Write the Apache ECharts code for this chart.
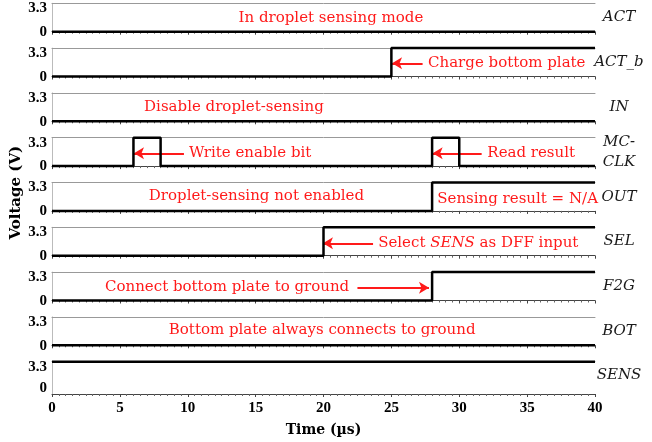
<!DOCTYPE html>
<html><head><meta charset="utf-8">
<script src="https://cdn.jsdelivr.net/npm/echarts@6/dist/echarts.min.js"></script>
<style>html,body{margin:0;padding:0;background:#fff}#c{width:652px;height:442px}</style>
</head><body><div id="c"></div>
<script>
// ---- data ----
const signalNames = ['ACT', 'ACT_b', 'IN', 'MC-\nCLK', 'OUT', 'SEL', 'F2G', 'BOT', 'SENS'];
// step waveforms: [time (µs), voltage (V)]
const actWave   = [[0, 0], [40, 0]];
const actBWave  = [[0, 0], [25, 3.3], [40, 3.3]];
const inWave    = [[0, 0], [40, 0]];
const mcClkWave = [[0, 0], [6, 3.3], [8, 0], [28, 3.3], [30, 0], [40, 0]];
const outWave   = [[0, 0], [28, 3.3], [40, 3.3]];
const selWave   = [[0, 0], [20, 3.3], [40, 3.3]];
const f2gWave   = [[0, 0], [28, 3.3], [40, 3.3]];
const botWave   = [[0, 0], [40, 0]];
const sensWave  = [[0, 3.3], [40, 3.3]];
const waves = [actWave, actBWave, inWave, mcClkWave, outWave, selWave, f2gWave, botWave, sensWave];
const yTickValues = [0, 3.3];
// annotations: [panel, time, voltage, text]
const notes = [
  [0, 20.55, 1.6, 'In droplet sensing mode'],
  [1, 33.5, 1.6, 'Charge bottom plate'],
  [2, 13.4, 1.6, 'Disable droplet-sensing'],
  [3, 14.6, 1.5, 'Write enable bit'],
  [3, 35.3, 1.5, 'Read result'],
  [4, 15.06, 1.7, 'Droplet-sensing not enabled'],
  [4, 34.3, 1.35, 'Sensing result = N/A'],
  [5, 31.4, 1.5, 'Select {i|SENS} as DFF input'],
  [6, 12.9, 1.6, 'Connect bottom plate to ground'],
  [7, 19.9, 1.75, 'Bottom plate always connects to ground']
];
// arrows: [panel, tail time, head time, voltage]
const arrows = [
  [1, 27.3, 25.05, 1.53],
  [3, 9.72, 6.04, 1.49],
  [3, 31.65, 28.04, 1.49],
  [5, 23.65, 19.96, 1.44],
  [6, 22.5, 27.77, 1.49]
];

// ---- layout / style ----
const N = 9, LEFT = 52, WIDTH = 543, TOP0 = 3.3, PITCH = 44.8, H = 28.4, HLAST = 32.3;
const SERIF = '"DejaVu Serif", "Liberation Serif", serif';
const TICKFONT = '"Liberation Serif", "DejaVu Serif", serif';
const RED = '#ff1a1a';
const tickText = { color: '#000', fontFamily: TICKFONT, fontWeight: 'bold', fontSize: 15 };

const grid = [], xAxis = [], yAxis = [], series = [];
for (let i = 0; i < N; i++) {
  const last = i === N - 1;
  grid.push({ left: LEFT, width: WIDTH, top: TOP0 + i * PITCH, height: last ? HLAST : H,
    containLabel: false, outerBoundsMode: 'none' });
  xAxis.push({
    gridIndex: i, type: 'value', min: 0, max: 40, interval: 5, position: 'bottom',
    axisLine: { show: true, onZero: false, lineStyle: { color: '#444', width: 1 } },
    axisTick: { show: true, length: 3, lineStyle: { color: '#444' } },
    minorTick: { show: true, splitNumber: 10, length: 2, lineStyle: { color: '#666' } },
    splitLine: { show: false },
    axisLabel: { show: last, ...tickText, margin: 7 },
    name: last ? 'Time (µs)' : '', nameLocation: 'middle', nameGap: 29,
    nameTextStyle: { color: '#000', fontFamily: SERIF, fontWeight: 'bold', fontSize: 14 }
  });
  yAxis.push({
    gridIndex: i, type: 'value', min: last ? -0.8 : 0, max: 3.3,
    axisLine: { show: true, onZero: false, lineStyle: { color: '#bbb', width: 1 } },
    axisTick: { show: false },
    splitLine: { show: false },
    axisLabel: { show: true, customValues: yTickValues, ...tickText, margin: 5,
      formatter: v => (Math.abs(v) < 1e-9 ? '{z|0}' : '{h|' + v + '}'),
      rich: { z: { ...tickText, padding: [1, 0, 0, 0] }, h: { ...tickText, padding: [10, 0, 0, 0] } } },
    name: i === 4 ? 'Voltage (V)' : '', nameLocation: 'middle', nameGap: 28, nameRotate: 90,
    nameMoveOverlap: false,
    nameTextStyle: { color: '#000', fontFamily: SERIF, fontWeight: 'bold', fontSize: 15, padding: [0, 0, 0, 8] }
  });
}
// top border per panel
for (let i = 0; i < N; i++) {
  xAxis.push({
    gridIndex: i, type: 'value', min: 0, max: 40, position: 'top',
    axisLine: { show: true, onZero: false, lineStyle: { color: '#999', width: 1 } },
    axisTick: { show: false }, axisLabel: { show: false }, splitLine: { show: false }
  });
}

const labelStyle = { color: RED, fontFamily: SERIF, fontSize: 15 };
for (let i = 0; i < N; i++) {
  const mpData = notes.filter(n => n[0] === i).map(n => ({
    coord: [n[1], n[2]],
    label: {
      show: true, position: 'inside', formatter: n[3], ...labelStyle,
      rich: { i: { ...labelStyle, fontStyle: 'italic' } }
    }
  }));
  mpData.push({
    coord: [40, 1.65],
    label: { show: true, position: 'inside', offset: [24, 0], formatter: signalNames[i], color: '#1a1a1a',
      fontFamily: SERIF, fontStyle: 'italic', fontSize: 15, lineHeight: 20, align: 'center' }
  });
  const mlData = arrows.filter(a => a[0] === i).map(a => [{ coord: [a[1], a[3]] }, { coord: [a[2], a[3]] }]);
  series.push({
    type: 'line', xAxisIndex: i, yAxisIndex: i, step: 'end', symbol: 'none', clip: false,
    data: waves[i], z: 5,
    lineStyle: { color: '#000', width: 2.5 },
    markPoint: { symbol: 'circle', symbolSize: 0, silent: true, data: mpData, animation: false },
    markLine: {
      silent: true, symbol: ['none', 'arrow'], symbolSize: [9, 10], animation: false,
      label: { show: false }, lineStyle: { color: RED, width: 2, type: 'solid' }, data: mlData
    }
  });
}

const chart = echarts.init(document.getElementById('c'), null, { renderer: 'canvas' });
chart.setOption({ animation: false, backgroundColor: '#fff', grid, xAxis, yAxis, series });
</script></body></html>
